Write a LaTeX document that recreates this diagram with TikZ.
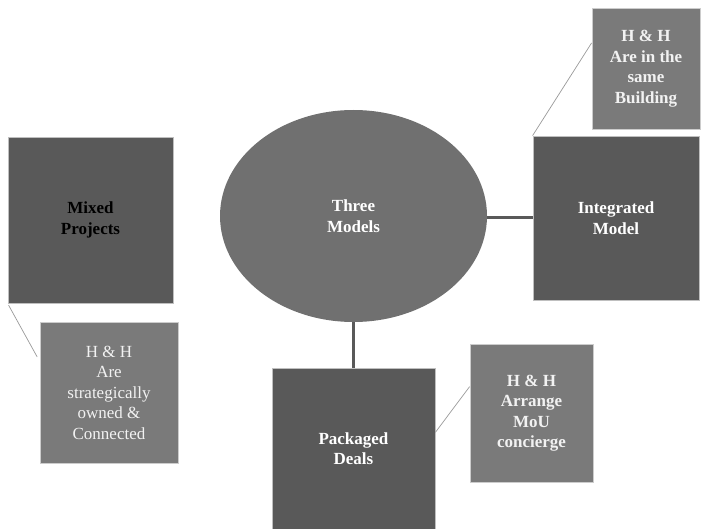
\documentclass[tikz,border=0pt]{standalone}
\usepackage{fontspec}
\setmainfont{Liberation Serif}
\usetikzlibrary{shapes.geometric,calc}
\definecolor{boxdark}{RGB}{89,89,89}
\definecolor{ovalgray}{RGB}{112,112,112}
\definecolor{boxlight}{RGB}{122,122,122}

\begin{document}
\begin{tikzpicture}[x=1pt,y=-1pt,
  model/.style={draw=black!25,line width=0.8pt,fill=boxdark,text=white,align=center,
    font=\fontsize{17}{20.5}\selectfont\bfseries,inner sep=0pt},
  detail/.style={draw=black!20,line width=0.8pt,fill=boxlight,text=black!5,align=center,
    font=\fontsize{17}{20.5}\selectfont\bfseries,inner sep=0pt},
  link/.style={line width=3pt,draw=boxdark},
  thin/.style={line width=0.7pt,draw=black!40}]
  \useasboundingbox (0,0) rectangle (703,529);
  \node[ellipse,fill=ovalgray,text=white,align=center,minimum width=267pt,minimum height=212pt,
    inner sep=0pt,font=\fontsize{17}{20.5}\selectfont\bfseries] (three) at (353.5,216) {Three\\Models};
  \node[model,minimum width=165pt,minimum height=166pt,text=black] (mixed) at (90.5,220) {Mixed\\Projects};
  \node[model,minimum width=166pt,minimum height=164pt] (intg) at (616,218) {Integrated\\Model};
  \node[model,minimum width=163pt,minimum height=161pt] (pack) at (353.5,448.5) {Packaged\\Deals};
  \node[detail,minimum width=138pt,minimum height=141pt,font=\fontsize{17}{20.5}\selectfont] (mixsub) at (109,392.5)
    {H \& H\\Are\\strategically\\owned \&\\Connected};
  \node[detail,minimum width=108pt,minimum height=121pt] (intgsub) at (646,68.5)
    {H \& H\\Are in the\\same\\Building};
  \node[detail,minimum width=123pt,minimum height=138pt] (packsub) at (531.5,413)
    {H \& H\\Arrange\\MoU\\concierge};
  \coordinate (mixstub) at (125,245);
  \draw[link] (mixstub) -- (mixstub -| mixed.east);
  \draw[link] (intg.west -| three.east) -- (intg.west);
  \draw[link] (three.south) -- (pack.north);
  \draw[thin,shorten <=2pt,shorten >=5pt] (mixed.south west) -- ($(mixsub.north west)!0.28!(mixsub.south west)$);
  \draw[thin] (intg.north west) -- ($(intgsub.north west)!0.29!(intgsub.south west)$);
  \draw[thin] ($(pack.north east)!0.4!(pack.south east)$) -- ($(packsub.north west)!0.31!(packsub.south west)$);
\end{tikzpicture}
\end{document}
